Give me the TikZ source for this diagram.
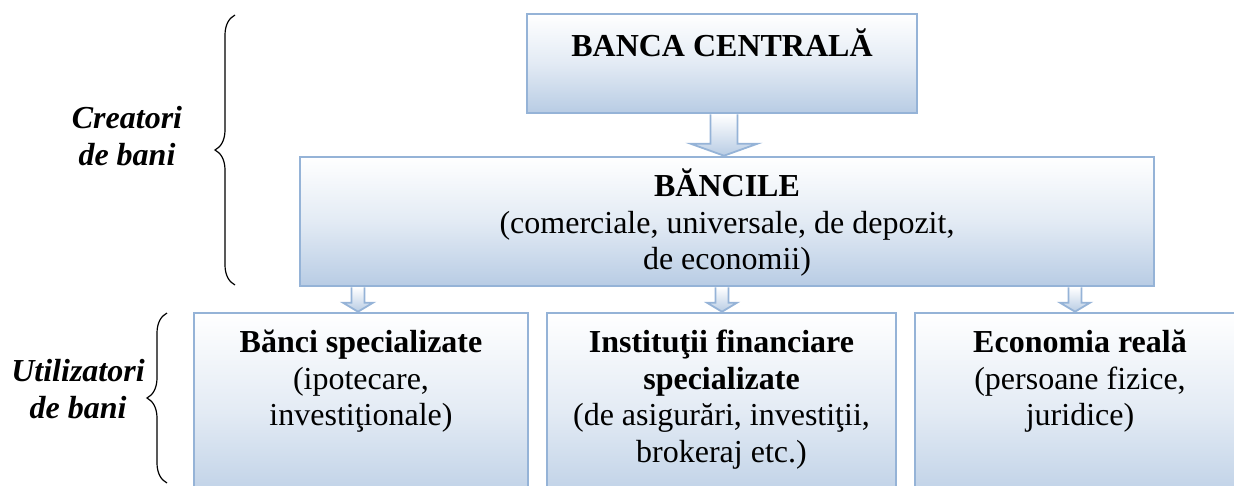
\documentclass[tikz,border=0pt]{standalone}
\usepackage{fontspec}
\setmainfont{Liberation Serif}
\usepackage{tikz}
\usetikzlibrary{calc,positioning,decorations.pathreplacing}
\definecolor{bordblue}{RGB}{149,179,215}
\definecolor{fillblue}{RGB}{184,204,228}
\tikzset{>=latex}
\tikzset{
  bankbox/.style={draw=bordblue, line width=2.6pt, top color=white, bottom color=fillblue, middle color=fillblue!40, inner sep=0pt},
  boxtext/.style={align=center, anchor=base, inner sep=0pt, font=\fontsize{32}{36.5}\selectfont},
  sidetext/.style={align=center, anchor=base, inner sep=0pt, font=\fontsize{32}{36.5}\selectfont\bfseries\itshape},
  flowarrow/.style={draw=bordblue, line width=1.8pt, top color=white, bottom color=fillblue},
  sidebrace/.style={decorate, decoration={brace, amplitude=20pt}, line width=1.2pt},
}
% block arrow: from node, to node, x coordinate, half shaft, half head, head length
\newcommand{\downflow}[6]{%
  \path[flowarrow] ($(#1.south -| #3)+(-#4,0)$) -- ($(#2.north -| #3)+(-#4,-#6)$)
    -- ($(#2.north -| #3)+(-#5,-#6)$) -- (#2.north -| #3)
    -- ($(#2.north -| #3)+(#5,-#6)$) -- ($(#2.north -| #3)+(#4,-#6)$)
    -- ($(#1.south -| #3)+(#4,0)$);}

\begin{document}
\begin{tikzpicture}[x=1pt, y=-1pt]
      \useasboundingbox (0,0) rectangle (1234,485);
      \clip (0,0) rectangle (1234,485);

      \node[bankbox, minimum width=390, minimum height=99] (central) at (722,63.5) {};
      \node[bankbox, minimum width=854, minimum height=129] (bancile) at (727,221.5) {};
      \node[bankbox, minimum width=334, minimum height=200] (spec) at (361,413) {};
      \node[bankbox, minimum width=349, minimum height=200] (inst) at (721.5,413) {};
      \node[bankbox, minimum width=330, minimum height=200] (econ) at (1080,413) {};

      % base anchor sits on the last line
      \node[boxtext] (centraltext) at ($(central.north)+(0,44)$) {\bfseries BANCA CENTRALĂ};
      \node[boxtext] (bancitext) at ($(bancile.north)+(0,114)$)
        {{\bfseries BĂNCILE}\\(comerciale, universale, de depozit,\\de economii)};
      \node[boxtext] (spectext) at ($(spec.north)+(0,114)$)
        {{\bfseries Bănci specializate}\\(ipotecare,\\investiţionale)};
      \node[boxtext] (insttext) at ($(inst.north)+(0,150.5)$)
        {{\bfseries Instituţii financiare}\\{\bfseries specializate}\\(de asigurări, investiţii,\\brokeraj etc.)};
      \node[boxtext] (econtext) at ($(econ.north)+(0,114)$)
        {{\bfseries Economia reală}\\(persoane fizice,\\juridice)};

      \coordinate (c0) at (724,0);
      \coordinate (c1) at (358,0);
      \coordinate (c2) at (722,0);
      \coordinate (c3) at (1075,0);
      \downflow{central}{bancile}{c0}{13.5}{33.5}{12}
      \downflow{bancile}{spec}{c1}{6.5}{15}{9}
      \downflow{bancile}{inst}{c2}{6.5}{15}{9}
      \downflow{bancile}{econ}{c3}{6.5}{15}{9}

      \draw[sidebrace] (235,285) -- (235,15);
      \draw[sidebrace] (167,483) -- (167,313);
      \node[sidetext] (creatori) at (127,165) {Creatori\\de bani};
      \node[sidetext] (utilizatori) at (78,418) {Utilizatori\\de bani};
\end{tikzpicture}
\end{document}
